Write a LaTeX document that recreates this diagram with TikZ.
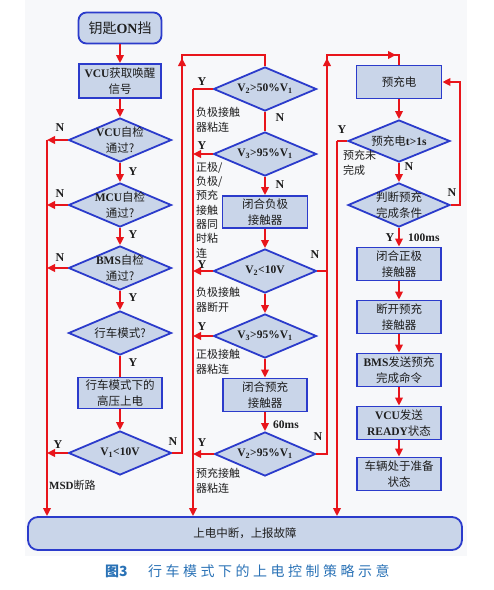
\documentclass[tikz,border=0pt]{standalone}
\usepackage{fontspec}
\setmainfont{Noto Sans CJK SC}
\newfontfamily\latf{Liberation Serif}
\newfontfamily\capfont[LetterSpace=25]{Noto Sans CJK SC}
\usetikzlibrary{shapes.geometric,arrows.meta}
\definecolor{bluebd}{HTML}{2B3BCB}
\definecolor{boxfill}{HTML}{C9D5E9}
\definecolor{redln}{HTML}{E8151B}
\definecolor{txt}{HTML}{1E1E1E}
\definecolor{capc}{HTML}{2A72B6}
\definecolor{bgc}{HTML}{F7F8FA}
\newcommand\en[1]{{\latf\bfseries #1}}
\newcommand\sub[1]{\textsubscript{#1}}
\begin{document}
\begin{tikzpicture}[x=1pt,y=-1pt,
  box/.style={draw=bluebd, fill=boxfill, line width=1.8pt, minimum width=84pt, minimum height=33pt, inner sep=1pt, align=center, font=\fontsize{11.5}{15.5}\selectfont, text=txt},
  dia/.style={diamond, draw=bluebd, fill=boxfill, line width=1.8pt, minimum width=103pt, minimum height=44pt, inner sep=0pt},
  dtx/.style={align=center, font=\fontsize{11.5}{15.5}\selectfont, text=txt, inner sep=0pt},
  ar/.style={draw=redln, line width=2.2pt, -{Triangle[length=8pt,width=7.5pt]}},
  ln/.style={draw=redln, line width=2.2pt},
  yn/.style={font=\fontsize{12}{12}\selectfont\latf\bfseries, text=txt, inner sep=0pt},
  lab/.style={align=left, font=\fontsize{11}{15}\selectfont, text=txt, inner sep=0pt, anchor=west}
]
\useasboundingbox (0,0) rectangle (494,590);
\fill[bgc] (25,0) rectangle (467,556);

% ---------- column 1 ----------
\node[box, rounded corners=8pt, minimum width=83pt, minimum height=31pt, font=\fontsize{14}{16}\selectfont] (start) at (120,28) {钥匙\en{ON}挡};
\node[box, minimum width=82pt, minimum height=34pt] (n1) at (120,81) {\en{VCU}获取唤醒\\信号};
\node[dia, label={[dtx]center:\en{VCU}自检\\通过?}] (d1) at (120,140) {};
\node[dia, label={[dtx]center:\en{MCU}自检\\通过?}] (d2) at (120,205) {};
\node[dia, label={[dtx]center:\en{BMS}自检\\通过?}] (d3) at (120,268) {};
\node[dia, label={[dtx]center:行车模式?}] (d4) at (120,333) {};
\node[box, minimum width=84pt, minimum height=31pt] (n2) at (120,393) {行车模式下的\\高压上电};
\node[dia, label={[dtx]center:\en{V\sub{1}<10V}}] (d5) at (120,453) {};

% ---------- column 2 ----------
\node[dia, label={[dtx]center:\en{V\sub{2}>50\%V\sub{1}}}] (e1) at (265,89) {};
\node[dia, label={[dtx]center:\en{V\sub{3}>95\%V\sub{1}}}] (e2) at (265,154) {};
\node[box, minimum width=85pt, minimum height=32pt] (m1) at (265,212) {闭合负极\\接触器};
\node[dia, label={[dtx]center:\en{V\sub{2}<10V}}] (e3) at (265,271) {};
\node[dia, label={[dtx]center:\en{V\sub{3}>95\%V\sub{1}}}] (e4) at (265,336) {};
\node[box, minimum width=84pt, minimum height=33pt] (m2) at (265,395) {闭合预充\\接触器};
\node[dia, minimum width=101pt, label={[dtx]center:\en{V\sub{2}>95\%V\sub{1}}}] (e5) at (265,454) {};

% ---------- column 3 ----------
\node[box, minimum width=85pt, minimum height=33pt] (p1) at (399,82) {预充电};
\node[dia, minimum width=102pt, minimum height=42pt, label={[dtx]center:预充电\en{t>1s}}] (f1) at (399,141) {};
\node[dia, minimum width=102pt, label={[dtx]center:判断预充\\完成条件}] (f2) at (399,205) {};
\node[box] (q1) at (399,264) {闭合正极\\接触器};
\node[box] (q2) at (399,317) {断开预充\\接触器};
\node[box] (q3) at (399,370) {\en{BMS}发送预充\\完成命令};
\node[box] (q4) at (399,423) {\en{VCU}发送\\\en{READY}状态};
\node[box] (q5) at (399,474) {车辆处于准备\\状态};

% ---------- bottom ----------
\node[box, rounded corners=10pt, minimum width=434pt, minimum height=33pt] (bot) at (245,533.5) {上电中断，上报故障};

% ---------- connectors column 1 ----------
\draw[ar] (start) -- (n1);
\draw[ar] (n1) -- (d1);
\draw[ar] (d1) -- (d2);
\draw[ar] (d2) -- (d3);
\draw[ar] (d3) -- (d4);
\draw[ln] (d4) -- (n2);
\draw[ar] (n2) -- (d5);
\coordinate (L1) at (47,140);
\draw[ar] (d1.west) -- (L1);
\draw[ar] (L1) -- (L1 |- bot.north);
\draw[ar] (d2.west) -- (d2.west -| L1);
\draw[ar] (d3.west) -- (d3.west -| L1);
\draw[ar] (d5.west) -- (d5.west -| L1);
% N of d5 up to column 2
\coordinate (R1) at (182,55);
\draw[ln] (d5.east) -- (d5.east -| R1) -- (R1) -- (R1 -| e1.north) -- (e1.north);
\draw[ar] (182,80) -- (182,58);

% ---------- connectors column 2 ----------
\draw[ln] (e1) -- (e2);
\draw[ar] (e2) -- (m1);
\draw[ar] (m1) -- (e3);
\draw[ar] (e3) -- (e4);
\draw[ar] (e4) -- (m2);
\draw[ar] (m2) -- (e5);
\coordinate (L2) at (193,89);
\draw[ln] (e1.west) -- (L2);
\draw[ar] (L2) -- (L2 |- bot.north);
\draw[ar] (e2.west) -- (e2.west -| L2);
\draw[ar] (e3.west) -- (e3.west -| L2);
\draw[ar] (e4.west) -- (e4.west -| L2);
\draw[ar] (e5.west) -- (e5.west -| L2);
\coordinate (R2) at (327,55);
\draw[ln] (e5.east) -- (e5.east -| R2) -- (R2) -- (R2 -| p1.north) -- (p1.north);
\draw[ln] (e3.east) -- (e3.east -| R2);
\draw[ar] (327,80) -- (327,58);
\draw[ar] (378,55) -- (396,55);

% ---------- connectors column 3 ----------
\draw[ar] (p1) -- (f1);
\draw[ar] (f1) -- (f2);
\draw[ar] (f2) -- (q1);
\draw[ar] (q1) -- (q2);
\draw[ar] (q2) -- (q3);
\draw[ar] (q3) -- (q4);
\draw[ar] (q4) -- (q5);
\coordinate (L3) at (337,141);
\draw[ln] (f1.west) -- (L3);
\draw[ar] (L3) -- (L3 |- bot.north);
\coordinate (R3) at (460,205);
\draw[ar] (f2.east) -- (R3) -- (R3 |- p1.east) -- (p1.east);

% ---------- Y / N labels ----------
\node[yn] at (60,128) {N};
\node[yn] at (133,172) {Y};
\node[yn] at (60,194) {N};
\node[yn] at (133,235) {Y};
\node[yn] at (60,258) {N};
\node[yn] at (133,298) {Y};
\node[yn] at (133,363) {Y};
\node[yn] at (58,445) {Y};
\node[yn] at (173,442) {N};

\node[yn] at (202,82) {Y};
\node[yn] at (280,118) {N};
\node[yn] at (202,146) {Y};
\node[yn] at (280,185) {N};
\node[yn] at (202,265) {Y};
\node[yn] at (315,255) {N};
\node[yn] at (202,327) {Y};
\node[yn] at (202,443) {Y};
\node[yn] at (318,437) {N};

\node[yn] at (342,130) {Y};
\node[yn] at (409,167) {N};
\node[yn] at (452,193) {N};
\node[yn] at (390,238) {Y};

% ---------- side labels ----------
\node[lab] at (49,485) {\en{MSD}断路};
\node[lab] at (196,120) {负极接触\\器粘连};
\node[lab, font=\fontsize{11}{14.3}\selectfont] at (196,210) {正极/\\负极/\\预充\\接触\\器同\\时粘\\连};
\node[lab] at (196,300) {负极接触\\器断开};
\node[lab] at (196,362) {正极接触\\器粘连};
\node[lab] at (196,481) {预充接触\\器粘连};
\node[lab] at (343,163) {预充未\\完成};
\node[lab, font=\fontsize{11.5}{12}\selectfont\latf\bfseries] at (273,425) {60ms};
\node[lab, font=\fontsize{11.5}{12}\selectfont\latf\bfseries] at (408,238) {100ms};

% ---------- caption ----------
\node[anchor=west, inner sep=0pt, text=capc, font=\fontsize{14}{14}\selectfont\bfseries] (capn) at (105,571) {图3};
\node[anchor=west, inner sep=0pt, text=capc, font=\fontsize{14}{14}\selectfont\capfont] (capt) at (148,571) {行车模式下的上电控制策略示意};
\end{tikzpicture}
\end{document}
